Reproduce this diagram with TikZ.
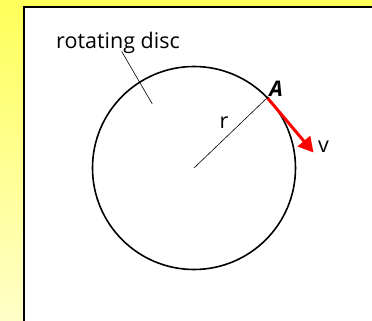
\documentclass[tikz,border=0pt]{standalone}
\usepackage{fontspec}
\setmainfont{Open Sans}
\usetikzlibrary{arrows.meta}
\definecolor{ytop}{RGB}{255,255,90}
\definecolor{ybot}{RGB}{255,255,200}
\tikzset{
  lbl/.style={inner sep=0pt, font=\fontsize{21.5bp}{24bp}\selectfont},
  thinline/.style={draw=black, line width=0.6bp},
  discline/.style={draw=black, line width=1.6bp},
  vel/.style={draw=red, line width=3bp, -{Triangle[length=15bp,width=16bp]}}
}
\begin{document}
\begin{tikzpicture}[x=1bp,y=-1bp]
\useasboundingbox (0,0) rectangle (372,321);
\shade[top color=ytop, bottom color=ybot] (0,0) rectangle (372,321);
\fill[white] (24,6.8) rectangle (380,330);
\draw[line width=2bp] (24,330) -- (24,6.8) -- (380,6.8);
\coordinate (O) at (194,168);
\node[discline, circle, minimum size=203bp, inner sep=0pt] (disc) at (O) {};
\coordinate (A) at (267.3,97.7);
\coordinate (T) at (313.5,152.5);
\draw[thinline] (O) -- (A);
\draw[vel] (A) -- (T);
\fill (A) circle (1.3bp);
\node[lbl, anchor=base west] (title) at (56,48.7) {rotating disc};
\coordinate (p1) at (121.7,51.5);
\coordinate (p2) at (152.3,104);
\draw[thinline] (p1) -- (p2);
\node[lbl, anchor=base] (r) at (224,128.5) {r};
\node[lbl, anchor=base] (v) at (323.5,152.5) {v};
\node[lbl, anchor=base, font=\fontsize{21.5bp}{24bp}\selectfont\bfseries\itshape] (Alab) at (276,96) {A};
\end{tikzpicture}
\end{document}
